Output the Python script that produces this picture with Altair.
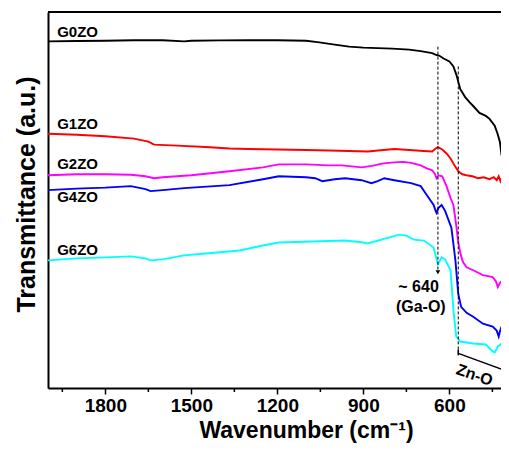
import altair as alt
import pandas as pd

FONT = "Liberation Sans"

series = ["G0ZO", "G1ZO", "G2ZO", "G4ZO", "G6ZO"]
colors = ["#000000", "#ff0000", "#ff00ff", "#0000ff", "#00ffff"]

g0_wn = [2000, 1900, 1800, 1700, 1600, 1525, 1500, 1400, 1300, 1200, 1100, 1060, 1000, 950, 900, 850, 800, 740, 700, 660, 645, 636, 620, 600, 586, 575, 562, 545, 530, 517, 495, 473, 460, 442, 432, 424, 418]
g0_t = [350.3, 350.7, 351, 351.5, 351.5, 350.3, 351, 351.3, 351.5, 351.5, 351, 349.5, 347, 345, 344, 343.5, 343, 342, 340.5, 338.5, 336.5, 336, 333, 330, 325, 316, 302, 294, 289, 285, 278, 275, 272, 265, 257, 249, 235]

g1_wn = [2000, 1900, 1800, 1700, 1650, 1630, 1550, 1450, 1367, 1300, 1200, 1100, 1022, 950, 885, 830, 792, 740, 690, 660, 648, 640, 625, 610, 596, 580, 569, 555, 541, 520, 500, 480, 460, 445, 435, 428, 422, 418]
g1_t = [257, 256, 254.5, 252, 249, 246, 245, 243.5, 242, 241.5, 241, 240.5, 240, 239.5, 239, 240.5, 241.5, 240.5, 239.5, 239, 242, 243.5, 241, 237, 232, 224, 219, 216, 215, 214, 212, 213, 211, 213, 210, 214, 209, 212]

g2_wn = [2000, 1900, 1800, 1711, 1660, 1630, 1600, 1500, 1367, 1250, 1195, 1100, 1022, 975, 906, 870, 830, 792, 760, 734, 700, 679, 660, 650, 645, 638, 625, 610, 596, 586, 576, 569, 560, 552, 540, 517, 483, 449, 438, 431, 424, 418]
g2_t = [215, 216, 216, 215.5, 214, 212, 213, 215, 219, 223, 226, 226, 225, 225, 223, 224.5, 227, 228, 228.5, 227.5, 225, 222, 220, 216, 212, 215, 214, 204, 192, 185, 164, 147, 134, 127, 122, 119, 114, 112, 108, 102, 106, 108]

g4_wn = [2000, 1900, 1800, 1711, 1660, 1642, 1600, 1525, 1367, 1250, 1195, 1100, 1068, 1043, 1000, 964, 906, 872, 850, 827, 792, 734, 700, 679, 655, 648, 645, 638, 627, 615, 593, 579, 569, 559, 540, 517, 483, 449, 435, 428, 424, 418]
g4_t = [200, 201.5, 202.5, 204, 201, 199, 200, 202, 205, 211, 214, 213, 212, 209, 211, 212, 210, 207, 209, 212, 210, 207, 204, 195, 185, 179, 177, 182, 185, 179, 162, 129, 95, 82, 76, 72, 65, 62, 58, 52, 57, 62]

g6_wn = [2000, 1900, 1800, 1711, 1660, 1642, 1600, 1525, 1450, 1332, 1250, 1195, 1078, 964, 900, 885, 837, 800, 775, 750, 724, 689, 665, 655, 648, 640, 627, 615, 596, 586, 576, 562, 517, 473, 449, 442, 431, 418]
g6_t = [129, 131, 132, 133, 131, 129, 130, 134, 136, 139, 144, 147, 148, 149, 147, 146, 150, 153, 155, 154, 150, 149, 144, 142, 134, 125, 132, 130, 119, 79, 52, 47, 45, 44, 37, 36, 42, 45]

label_wn = [1968, 1968, 1968, 1968, 1968]
label_t = [360, 267, 226, 193, 139]

major_ticks = [1800, 1500, 1200, 900, 600]
minor_ticks = [1950, 1650, 1350, 1050, 750, 450]

# dashed marker lines: wavenumber, top, bottom
dash_wn = [640, 569]
dash_top = [345, 325]
dash_bot = [117, 35]

# Zn-O bracket segments
br_x1 = [569, 569]
br_y1 = [35, 39]
br_x2 = [418, 569]
br_y2 = [19, 33]

ann_text = ["~ 640", "(Ga-O)"]
ann_wn = [637, 613]
ann_t = [102, 82]

rows = []
for name, wn, t in zip(series, [g0_wn, g1_wn, g2_wn, g4_wn, g6_wn], [g0_t, g1_t, g2_t, g4_t, g6_t]):
    for i, (a, b) in enumerate(zip(wn, t)):
        rows.append({"series": name, "wn": a, "t": b, "order": i})
df = pd.DataFrame(rows)

W, H = 453, 376
xs = alt.Scale(domain=[420, 2000], reverse=True, nice=False, zero=False)
ys = alt.Scale(domain=[0, 380], nice=False, zero=False)

x_axis = alt.Axis(
    values=major_ticks, format="d", title="Wavenumber (cm⁻¹)", grid=False,
    domainColor="black", domainWidth=2, tickColor="black", tickWidth=1.5, tickSize=6,
    labelFont=FONT, labelFontWeight="bold", labelFontSize=19, labelColor="black", labelPadding=2,
    labelFlush=False,
    titleFont=FONT, titleFontWeight="bold", titleFontSize=23, titleColor="black",
    titleX=258, titleY=49, titleBaseline="alphabetic",
)
y_axis = alt.Axis(
    title="Transmittance (a.u.)", grid=False, ticks=False, labels=False,
    domainColor="black", domainWidth=2,
    titleFont=FONT, titleFontWeight="bold", titleFontSize=25, titleColor="black",
    titleX=-14, titleY=182, titleBaseline="alphabetic",
)

lines = alt.Chart(df).mark_line(strokeWidth=1.9).encode(
    x=alt.X("wn:Q", scale=xs, axis=x_axis),
    y=alt.Y("t:Q", scale=ys, axis=y_axis),
    color=alt.Color("series:N", scale=alt.Scale(domain=series, range=colors), legend=None),
    order="order:Q",
    detail="series:N",
)

top_rule = alt.Chart(pd.DataFrame({"a": [0]})).mark_rule(color="black", strokeWidth=2).encode(
    x=alt.value(0), x2=alt.value(W), y=alt.value(0)
)

minor = alt.Chart(pd.DataFrame({"wn": minor_ticks})).mark_rule(color="black", strokeWidth=1.5).encode(
    x=alt.X("wn:Q", scale=xs), y=alt.value(H + 1), y2=alt.value(H + 4)
)

dashes = alt.Chart(pd.DataFrame({"wn": dash_wn, "t1": dash_top, "t2": dash_bot})).mark_rule(
    color="black", strokeWidth=1, strokeDash=[3, 2]
).encode(x=alt.X("wn:Q", scale=xs), y=alt.Y("t1:Q", scale=ys), y2="t2:Q")

arrow = alt.Chart(pd.DataFrame({"wn": [640], "t": [117]})).mark_point(
    shape="triangle-down", filled=True, color="black", size=22, opacity=1
).encode(x=alt.X("wn:Q", scale=xs), y=alt.Y("t:Q", scale=ys))

bracket = alt.Chart(pd.DataFrame({"x1": br_x1, "y1": br_y1, "x2": br_x2, "y2": br_y2})).mark_rule(
    color="black", strokeWidth=1.5
).encode(x=alt.X("x1:Q", scale=xs), y=alt.Y("y1:Q", scale=ys), x2="x2:Q", y2="y2:Q")

labels = alt.Chart(pd.DataFrame({"name": series, "wn": label_wn, "t": label_t})).mark_text(
    font=FONT, fontWeight="bold", fontSize=15, align="left", baseline="middle", color="black"
).encode(x=alt.X("wn:Q", scale=xs), y=alt.Y("t:Q", scale=ys), text="name:N")

ann_df = pd.DataFrame({"txt": ann_text, "wn": ann_wn, "t": ann_t})
ann = alt.Chart(ann_df).mark_text(
    font=FONT, fontWeight="bold", fontSize=16, align="right", baseline="middle", color="black"
).encode(x=alt.X("wn:Q", scale=xs), y=alt.Y("t:Q", scale=ys), text="txt:N")

zno = alt.Chart(pd.DataFrame({"txt": ["Zn-O"], "wn": [512], "t": [13]})).mark_text(
    font=FONT, fontWeight="bold", fontSize=16, align="center", baseline="middle", color="black", angle=19
).encode(x=alt.X("wn:Q", scale=xs), y=alt.Y("t:Q", scale=ys), text="txt:N")

chart = alt.layer(lines, top_rule, minor, dashes, arrow, bracket, labels, ann, zno).properties(
    width=W, height=H,
    autosize=alt.AutoSizeParams(type="none"),
    padding={"left": 40, "top": 4, "right": 0, "bottom": 55},
).configure_view(stroke=None).configure(background="white")

chart.save("out.html", embed_options={"renderer": "svg", "actions": False})
